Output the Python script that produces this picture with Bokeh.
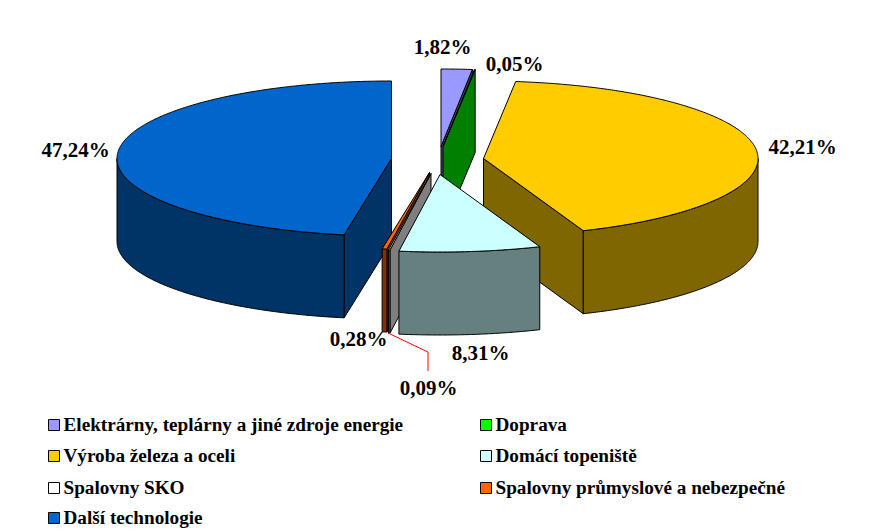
import math
from bokeh.plotting import figure
from bokeh.models import ColumnDataSource
from bokeh.core.properties import value
from bokeh.embed import file_html
from bokeh.resources import INLINE

categories = ["Elektrárny, teplárny a jiné zdroje energie", "Doprava", "Výroba železa a oceli",
              "Domácí topeniště", "Spalovny SKO", "Spalovny průmyslové a nebezpečné", "Další technologie"]
values = [1.82, 0.05, 42.21, 8.31, 0.09, 0.28, 47.24]
labels = ["1,82%", "0,05%", "42,21%", "8,31%", "0,09%", "0,28%", "47,24%"]
top_colors = ["#9999FF", "#00FF00", "#FFCC00", "#CCFFFF", "#FFFFFF", "#FF6600", "#0066CC"]
side_colors = ["#4C4C7F", "#007F00", "#7F6600", "#667F7F", "#7F7F7F", "#7F3300", "#003366"]

# exploded apex of each slice and the label anchors, in page pixels
apex_x = [440.5, 442.5, 483, 439.5, 430.5, 429, 391]
apex_y = [146, 146, 158, 174, 173, 172, 158]
label_x = [442, 514, 802, 480, 428, 358, 75]
label_y = [46.5, 63.5, 146.5, 352.5, 387.5, 338.5, 149.5]
draw_order = [6, 2, 0, 1, 5, 4, 3]
RX, RY, DEPTH = 274.5, 77.5, 83
LABEL_SIZE = "21px"
LEGEND_SIZE = "19.2px"
legend_sq_x = [53.5, 485.5, 53.5, 485.5, 53.5, 485.5, 53.5]
legend_sq_y = [424.5, 424.5, 455.5, 455.5, 487.5, 487.5, 517.5]

p = figure(width=870, height=531, x_range=(0, 870), y_range=(531, 0),
           output_backend="svg", toolbar_location=None, min_border=0)
p.axis.visible = False
p.grid.visible = False
p.outline_line_color = None

def rim(cx, cy, deg):
    r = math.radians(deg)
    return cx + RX * math.sin(r), cy - RY * math.cos(r)

xs, ys, fills = [], [], []
def add(poly, color):
    xs.append([q[0] for q in poly]); ys.append([q[1] for q in poly]); fills.append(color)

starts = []
acc = 0.0
for v in values:
    starts.append(acc)
    acc += v
total = acc

for i in draw_order:
    a0 = starts[i] / total * 360
    a1 = (starts[i] + values[i]) / total * 360
    cx, cy = apex_x[i], apex_y[i]
    # cut faces that look toward the viewer
    for deg, sign in ((a0, -1), (a1, 1)):
        r = math.radians(deg)
        if sign * (-math.sin(r)) < 0:
            e = rim(cx, cy, deg)
            add([(cx, cy), e, (e[0], e[1] + DEPTH), (cx, cy + DEPTH)], side_colors[i])
    # outer wall on the front half
    lo, hi = max(a0, 90), min(a1, 270)
    if hi > lo:
        n = max(2, int((hi - lo) * 2))
        arc = [rim(cx, cy, lo + (hi - lo) * k / n) for k in range(n + 1)]
        add(arc + [(q[0], q[1] + DEPTH) for q in reversed(arc)], side_colors[i])
    # top
    n = max(2, int((a1 - a0) * 2))
    add([(cx, cy)] + [rim(cx, cy, a0 + (a1 - a0) * k / n) for k in range(n + 1)], top_colors[i])

p.patches("xs", "ys", source=ColumnDataSource(dict(xs=xs, ys=ys, c=fills)),
          fill_color="c", line_color="black", line_width=1)

# leader of the 0,09% label
p.line([387.5, 427.5, 427.5], [332.5, 351.5, 370.5], line_color="#FF0000", line_width=1)

p.text(label_x, label_y, text=labels, text_font=value("Liberation Serif"), text_font_style="bold",
       text_font_size=LABEL_SIZE, text_align="center", text_baseline="middle", text_color="black")

p.rect(legend_sq_x, legend_sq_y, width=11, height=11, fill_color=top_colors, line_color="black", line_width=1)
p.text([x + 9.5 for x in legend_sq_x], [y - 0.7 for y in legend_sq_y], text=categories,
       text_font=value("Liberation Serif"), text_font_style="bold", text_font_size=LEGEND_SIZE,
       text_align="left", text_baseline="middle", text_color="black")

open("out.html", "w").write(file_html(p, INLINE))
